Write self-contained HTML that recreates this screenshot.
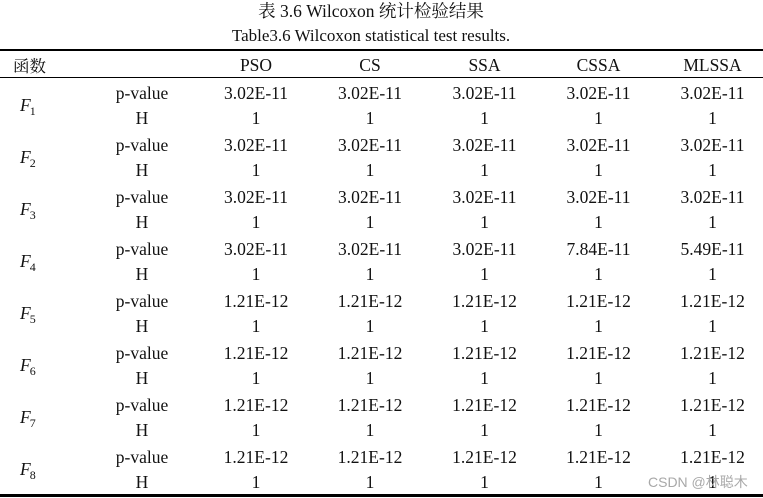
<!DOCTYPE html>
<html>
<head>
<meta charset="utf-8">
<style>
html,body{margin:0;padding:0;background:#fff;}
body{width:763px;height:498px;position:relative;overflow:hidden;font-family:"Liberation Serif","Noto Serif CJK SC",serif;color:#111;}
.t{position:absolute;white-space:nowrap;transform:translateX(-50%);height:20px;line-height:20px;font-size:17.5px;}
.l{position:absolute;white-space:nowrap;height:20px;line-height:20px;font-size:17.5px;}
.line{position:absolute;left:0;width:763px;background:#000;}
.f{position:absolute;white-space:nowrap;height:20px;line-height:20px;font-size:17.5px;font-style:italic;left:20px;}
.f sub{font-style:normal;font-size:12px;vertical-align:baseline;position:relative;top:4px;margin-left:-1px;}
.wm{position:absolute;left:648px;top:473px;font-family:"Liberation Sans","Noto Sans CJK SC",sans-serif;font-size:14px;color:#a8a8a8;line-height:18px;white-space:nowrap;}
</style>
</head>
<body>
<div class="t" style="left:371px;top:1px;font-size:17.5px;">表 3.6 Wilcoxon 统计检验结果</div>
<div class="t" style="left:371px;top:26px;font-size:17px;">Table3.6 Wilcoxon statistical test results.</div>

<div class="line" style="top:49px;height:2px;"></div>
<div class="line" style="top:77px;height:1px;"></div>
<div class="line" style="top:494px;height:3px;"></div>

<div class="l" style="left:13px;top:55px;font-size:16.5px;font-family:'Noto Serif CJK SC','Liberation Serif',serif;">函数</div>
<div class="t" style="left:256px;top:55px;">PSO</div>
<div class="t" style="left:370px;top:55px;">CS</div>
<div class="t" style="left:484.5px;top:55px;">SSA</div>
<div class="t" style="left:598.5px;top:55px;">CSSA</div>
<div class="t" style="left:712.5px;top:55px;">MLSSA</div>

<!-- F1 -->
<div class="f" style="top:95px;">F<sub>1</sub></div>
<div class="t" style="left:142px;top:83px;">p-value</div>
<div class="t" style="left:256px;top:83px;">3.02E-11</div>
<div class="t" style="left:370px;top:83px;">3.02E-11</div>
<div class="t" style="left:484.5px;top:83px;">3.02E-11</div>
<div class="t" style="left:598.5px;top:83px;">3.02E-11</div>
<div class="t" style="left:712.5px;top:83px;">3.02E-11</div>
<div class="t" style="left:142px;top:108px;">H</div>
<div class="t" style="left:256px;top:108px;">1</div>
<div class="t" style="left:370px;top:108px;">1</div>
<div class="t" style="left:484.5px;top:108px;">1</div>
<div class="t" style="left:598.5px;top:108px;">1</div>
<div class="t" style="left:712.5px;top:108px;">1</div>

<!-- F2 -->
<div class="f" style="top:147px;">F<sub>2</sub></div>
<div class="t" style="left:142px;top:135px;">p-value</div>
<div class="t" style="left:256px;top:135px;">3.02E-11</div>
<div class="t" style="left:370px;top:135px;">3.02E-11</div>
<div class="t" style="left:484.5px;top:135px;">3.02E-11</div>
<div class="t" style="left:598.5px;top:135px;">3.02E-11</div>
<div class="t" style="left:712.5px;top:135px;">3.02E-11</div>
<div class="t" style="left:142px;top:160px;">H</div>
<div class="t" style="left:256px;top:160px;">1</div>
<div class="t" style="left:370px;top:160px;">1</div>
<div class="t" style="left:484.5px;top:160px;">1</div>
<div class="t" style="left:598.5px;top:160px;">1</div>
<div class="t" style="left:712.5px;top:160px;">1</div>

<!-- F3 -->
<div class="f" style="top:199px;">F<sub>3</sub></div>
<div class="t" style="left:142px;top:187px;">p-value</div>
<div class="t" style="left:256px;top:187px;">3.02E-11</div>
<div class="t" style="left:370px;top:187px;">3.02E-11</div>
<div class="t" style="left:484.5px;top:187px;">3.02E-11</div>
<div class="t" style="left:598.5px;top:187px;">3.02E-11</div>
<div class="t" style="left:712.5px;top:187px;">3.02E-11</div>
<div class="t" style="left:142px;top:212px;">H</div>
<div class="t" style="left:256px;top:212px;">1</div>
<div class="t" style="left:370px;top:212px;">1</div>
<div class="t" style="left:484.5px;top:212px;">1</div>
<div class="t" style="left:598.5px;top:212px;">1</div>
<div class="t" style="left:712.5px;top:212px;">1</div>

<!-- F4 -->
<div class="f" style="top:251px;">F<sub>4</sub></div>
<div class="t" style="left:142px;top:239px;">p-value</div>
<div class="t" style="left:256px;top:239px;">3.02E-11</div>
<div class="t" style="left:370px;top:239px;">3.02E-11</div>
<div class="t" style="left:484.5px;top:239px;">3.02E-11</div>
<div class="t" style="left:598.5px;top:239px;">7.84E-11</div>
<div class="t" style="left:712.5px;top:239px;">5.49E-11</div>
<div class="t" style="left:142px;top:264px;">H</div>
<div class="t" style="left:256px;top:264px;">1</div>
<div class="t" style="left:370px;top:264px;">1</div>
<div class="t" style="left:484.5px;top:264px;">1</div>
<div class="t" style="left:598.5px;top:264px;">1</div>
<div class="t" style="left:712.5px;top:264px;">1</div>

<!-- F5 -->
<div class="f" style="top:303px;">F<sub>5</sub></div>
<div class="t" style="left:142px;top:291px;">p-value</div>
<div class="t" style="left:256px;top:291px;">1.21E-12</div>
<div class="t" style="left:370px;top:291px;">1.21E-12</div>
<div class="t" style="left:484.5px;top:291px;">1.21E-12</div>
<div class="t" style="left:598.5px;top:291px;">1.21E-12</div>
<div class="t" style="left:712.5px;top:291px;">1.21E-12</div>
<div class="t" style="left:142px;top:316px;">H</div>
<div class="t" style="left:256px;top:316px;">1</div>
<div class="t" style="left:370px;top:316px;">1</div>
<div class="t" style="left:484.5px;top:316px;">1</div>
<div class="t" style="left:598.5px;top:316px;">1</div>
<div class="t" style="left:712.5px;top:316px;">1</div>

<!-- F6 -->
<div class="f" style="top:355px;">F<sub>6</sub></div>
<div class="t" style="left:142px;top:343px;">p-value</div>
<div class="t" style="left:256px;top:343px;">1.21E-12</div>
<div class="t" style="left:370px;top:343px;">1.21E-12</div>
<div class="t" style="left:484.5px;top:343px;">1.21E-12</div>
<div class="t" style="left:598.5px;top:343px;">1.21E-12</div>
<div class="t" style="left:712.5px;top:343px;">1.21E-12</div>
<div class="t" style="left:142px;top:368px;">H</div>
<div class="t" style="left:256px;top:368px;">1</div>
<div class="t" style="left:370px;top:368px;">1</div>
<div class="t" style="left:484.5px;top:368px;">1</div>
<div class="t" style="left:598.5px;top:368px;">1</div>
<div class="t" style="left:712.5px;top:368px;">1</div>

<!-- F7 -->
<div class="f" style="top:407px;">F<sub>7</sub></div>
<div class="t" style="left:142px;top:395px;">p-value</div>
<div class="t" style="left:256px;top:395px;">1.21E-12</div>
<div class="t" style="left:370px;top:395px;">1.21E-12</div>
<div class="t" style="left:484.5px;top:395px;">1.21E-12</div>
<div class="t" style="left:598.5px;top:395px;">1.21E-12</div>
<div class="t" style="left:712.5px;top:395px;">1.21E-12</div>
<div class="t" style="left:142px;top:420px;">H</div>
<div class="t" style="left:256px;top:420px;">1</div>
<div class="t" style="left:370px;top:420px;">1</div>
<div class="t" style="left:484.5px;top:420px;">1</div>
<div class="t" style="left:598.5px;top:420px;">1</div>
<div class="t" style="left:712.5px;top:420px;">1</div>

<!-- F8 -->
<div class="f" style="top:459px;">F<sub>8</sub></div>
<div class="t" style="left:142px;top:447px;">p-value</div>
<div class="t" style="left:256px;top:447px;">1.21E-12</div>
<div class="t" style="left:370px;top:447px;">1.21E-12</div>
<div class="t" style="left:484.5px;top:447px;">1.21E-12</div>
<div class="t" style="left:598.5px;top:447px;">1.21E-12</div>
<div class="t" style="left:712.5px;top:447px;">1.21E-12</div>
<div class="t" style="left:142px;top:472px;">H</div>
<div class="t" style="left:256px;top:472px;">1</div>
<div class="t" style="left:370px;top:472px;">1</div>
<div class="t" style="left:484.5px;top:472px;">1</div>
<div class="t" style="left:598.5px;top:472px;">1</div>
<div class="t" style="left:712.5px;top:472px;">1</div>

<div class="wm">CSDN @林聪木</div>
</body>
</html>
